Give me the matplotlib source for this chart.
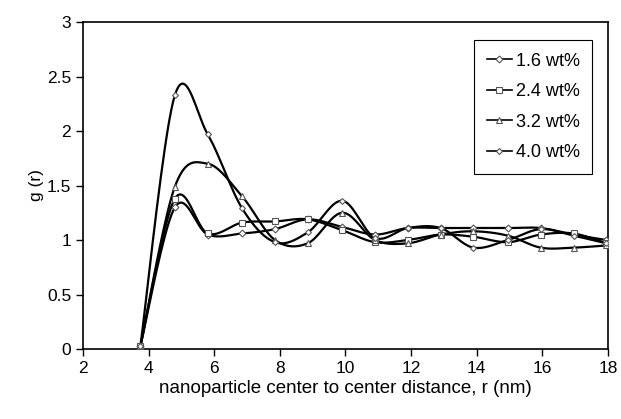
import numpy as np
import matplotlib
matplotlib.use("Agg")
import matplotlib.pyplot as plt
from matplotlib.lines import Line2D

plt.rcParams['font.family'] = ['Liberation Sans', 'DejaVu Sans']

# distance r (nm) at each data point
r = [3.75, 4.8, 5.8, 6.85, 7.85, 8.85, 9.9, 10.9, 11.9, 12.9, 13.9, 14.95, 15.95, 16.95, 17.95]

g_16 = [0.03, 1.30, 1.05, 1.06, 1.10, 1.19, 1.12, 1.05, 1.11, 1.11, 1.11, 1.11, 1.11, 1.05, 1.00]
g_24 = [0.03, 1.38, 1.06, 1.16, 1.17, 1.19, 1.09, 0.98, 1.00, 1.05, 1.03, 0.98, 1.05, 1.06, 0.97]
g_32 = [0.03, 1.49, 1.70, 1.40, 1.00, 0.97, 1.25, 1.00, 0.97, 1.05, 1.08, 1.04, 0.93, 0.93, 0.95]
g_40 = [0.03, 2.33, 1.97, 1.29, 0.98, 1.07, 1.36, 1.02, 1.11, 1.11, 0.93, 1.00, 1.10, 1.04, 0.97]

labels = ["1.6 wt%", "2.4 wt%", "3.2 wt%", "4.0 wt%"]
markers = ["D", "s", "^", "D"]
msizes = [3.5, 4, 5, 3]


def smooth(x, y, n=20):
    # excel-like smoothed line (catmull-rom bezier)
    p = np.column_stack([x, y]).astype(float)
    p = np.vstack([p[0], p, p[-1]])
    out = []
    t = np.linspace(0, 1, n)[:, None]
    for i in range(1, len(p) - 2):
        p0, p1, p2, p3 = p[i - 1], p[i], p[i + 1], p[i + 2]
        b1 = p1 + (p2 - p0) / 6
        b2 = p2 - (p3 - p1) / 6
        seg = ((1 - t) ** 3) * p1 + 3 * ((1 - t) ** 2) * t * b1 + 3 * (1 - t) * t ** 2 * b2 + t ** 3 * p2
        out.append(seg)
    s = np.vstack(out)
    return s[:, 0], s[:, 1]


fig = plt.figure(figsize=(6.21, 4.19), dpi=100)
ax = fig.add_axes([0.1337, 0.167, 0.8453, 0.7805])

handles = []
for g, lab, m, ms in zip([g_16, g_24, g_32, g_40], labels, markers, msizes):
    sx, sy = smooth(r, g)
    ax.plot(sx, sy, color="black", lw=1.6, zorder=2)
    ax.plot(r, g, ls="none", marker=m, ms=ms, mfc="white", mec="#555555", mew=0.8, zorder=3)
    handles.append(Line2D([], [], color="black", lw=1.2, marker=m, ms=ms, mfc="white",
                          mec="#555555", mew=0.8))

ax.set_xlim(2, 18)
ax.set_ylim(0, 3)
ax.set_xticks(np.arange(2, 19, 2))
ax.set_yticks(np.arange(0, 3.01, 0.5))
ax.set_yticklabels(["0", "0.5", "1", "1.5", "2", "2.5", "3"])
ax.tick_params(direction="out", length=5, width=1, labelsize=12.5, color="black")
for sp in ax.spines.values():
    sp.set_linewidth(1.2)
    sp.set_color("black")

ax.set_xlabel("nanoparticle center to center distance, r (nm)", fontsize=13.5, labelpad=3)
ax.set_ylabel("g (r)", fontsize=12.5, labelpad=2)

leg = ax.legend(handles, labels, loc="upper right", bbox_to_anchor=(0.97, 0.945),
                borderaxespad=0, fontsize=13, frameon=True, fancybox=False, framealpha=1,
                edgecolor="black", handlelength=1.4, handletextpad=0.2,
                labelspacing=0.75, borderpad=0.7)
leg.get_frame().set_linewidth(0.8)

fig.savefig("out.png", dpi=100)
